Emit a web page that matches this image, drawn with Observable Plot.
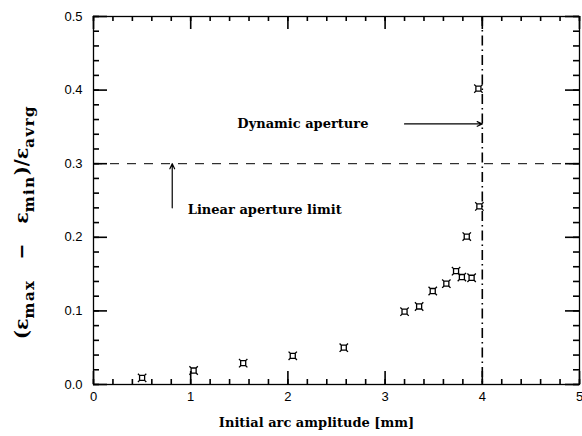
<!DOCTYPE html>
<html>
<head>
<meta charset="utf-8">
<script src="https://cdn.jsdelivr.net/npm/d3@7"></script>
<script src="https://cdn.jsdelivr.net/npm/@observablehq/plot@0.6"></script>
<style>
  html, body { margin: 0; padding: 0; background: #fff; }
  #chart svg { display: block; }
</style>
</head>
<body>
<div id="chart"></div>
<script>
// Emittance spread versus initial arc amplitude
const amplitude = [0.50, 1.03, 1.54, 2.05, 2.575, 3.20, 3.35, 3.49, 3.63, 3.73, 3.79, 3.84, 3.89, 3.97, 3.96];
const spread    = [0.009, 0.019, 0.029, 0.039, 0.050, 0.099, 0.106, 0.127, 0.137, 0.154, 0.146, 0.201, 0.145, 0.242, 0.402];

// Axis ticks
const xMajor = [0, 1, 2, 3, 4, 5];
const xLabels = ["0", "1", "2", "3", "4", "5"];
const xMinor = d3.range(0, 5.0001, 0.2);
const yMajor = [0, 0.1, 0.2, 0.3, 0.4, 0.5];
const yLabels = ["0.0", "0.1", "0.2", "0.3", "0.4", "0.5"];
const yMinor = d3.range(0, 0.5001, 0.02);

// Reference lines: linear aperture limit and dynamic aperture
const linearLimit = [0.3];
const dynamicAperture = [4.0];

// Annotations
const noteText = ["Dynamic aperture", "Linear aperture limit"];
const noteX = [1.48, 0.97];
const noteY = [0.354, 0.237];
const arrowX1 = [3.2, 0.81];
const arrowY1 = [0.354, 0.24];
const arrowX2 = [4.0, 0.81];
const arrowY2 = [0.354, 0.3];

const points = amplitude.map((x, i) => ({x, y: spread[i]}));
const notes = noteText.map((text, i) => ({text, x: noteX[i], y: noteY[i]}));
const arrows = arrowX1.map((x1, i) => ({x1, y1: arrowY1[i], x2: arrowX2[i], y2: arrowY2[i]}));

// Square marker with diagonal spikes at the corners
const spikedSquare = {
  draw(context, size) {
    const r = Math.sqrt(size / Math.PI);
    const h = r * 0.6;
    context.moveTo(-h, -h); context.lineTo(h, -h); context.lineTo(h, h); context.lineTo(-h, h); context.closePath();
    context.moveTo(-h, -h); context.lineTo(-r, -r);
    context.moveTo(h, -h); context.lineTo(r, -r);
    context.moveTo(h, h); context.lineTo(r, r);
    context.moveTo(-h, h); context.lineTo(-r, r);
  }
};

const serif = "'DejaVu Serif', serif";
const W = 582, H = 436;
const M = {left: 93, right: 3, top: 16, bottom: 52};
const innerW = W - M.left - M.right;
const innerH = H - M.top - M.bottom;

// Inward tick marks on all four sides: rules inset so only a short stub remains
const ticksX = (values, len) => [
  Plot.ruleX(values, {insetTop: innerH - len, stroke: "black", strokeWidth: 1.6}),
  Plot.ruleX(values, {insetBottom: innerH - len, stroke: "black", strokeWidth: 1.6})
];
const ticksY = (values, len) => [
  Plot.ruleY(values, {insetRight: innerW - len, stroke: "black", strokeWidth: 1.6}),
  Plot.ruleY(values, {insetLeft: innerW - len, stroke: "black", strokeWidth: 1.6})
];

const chart = Plot.plot({
  width: W,
  height: H,
  marginLeft: M.left,
  marginRight: M.right,
  marginTop: M.top,
  marginBottom: M.bottom,
  style: {fontFamily: "'Liberation Sans', sans-serif", fontSize: "13px"},
  x: {domain: [0, 5]},
  y: {domain: [0, 0.5]},
  marks: [
    // tick labels
    Plot.axisX({anchor: "bottom", ticks: xMajor, tickSize: 0, tickPadding: 7, tickFormat: (d, i) => xLabels[i], label: null}),
    Plot.axisY({anchor: "left", ticks: yMajor, tickSize: 0, tickPadding: 11, tickFormat: (d, i) => yLabels[i], label: null}),
    // reference lines
    Plot.ruleY(linearLimit, {stroke: "black", strokeWidth: 1, strokeDasharray: "9,8"}),
    Plot.ruleX(dynamicAperture, {stroke: "black", strokeWidth: 1.6, strokeDasharray: "10,4,1.5,4"}),
    // annotations
    Plot.arrow(arrows, {x1: "x1", y1: "y1", x2: "x2", y2: "y2", stroke: "black", strokeWidth: 1.2, headLength: 7, headAngle: 50}),
    Plot.text(notes, {x: "x", y: "y", text: "text", textAnchor: "start", fontFamily: serif, fontWeight: "bold", fontSize: 13, fill: "black"}),
    // measurements
    Plot.dot(points, {x: "x", y: "y", symbol: spikedSquare, r: 4.2, stroke: "black", strokeWidth: 1.3, fill: "none"}),
    // x axis title
    Plot.text(["Initial arc amplitude [mm]"], {frameAnchor: "bottom", dx: -20, dy: 42, fontFamily: serif, fontWeight: "bold", fontSize: 13, fill: "black"}),
    // frame and inward ticks drawn on top
    Plot.frame({stroke: "black", strokeWidth: 1.3}),
    ...ticksX(xMinor, 5),
    ...ticksX(xMajor, 13),
    ...ticksY(yMinor, 6),
    ...ticksY(yMajor, 14)
  ]
});

document.getElementById("chart").appendChild(chart);

// y axis title with subscripts
const svg = d3.select(chart);
const ylab = svg.append("text")
  .attr("transform", "translate(28,222) rotate(-90)")
  .attr("text-anchor", "middle")
  .attr("font-family", serif)
  .attr("font-weight", "bold")
  .attr("font-size", 19)
  .attr("fill", "black");
const parts = [
  ["(\u03B5", false], ["max", true], ["   \u2212   \u03B5", false], ["min", true], [")/\u03B5", false], ["avrg", true]
];
parts.forEach(([t, sub], i) => {
  const prevSub = i > 0 && parts[i - 1][1];
  const shift = sub ? 6 : (prevSub ? -6 : 0);
  ylab.append("tspan")
    .attr("dy", shift)
    .attr("font-size", sub ? 15 : 19)
    .attr("letter-spacing", sub ? 1.5 : 0)
    .style("white-space", "pre")
    .text(t);
});
</script>
</body>
</html>
